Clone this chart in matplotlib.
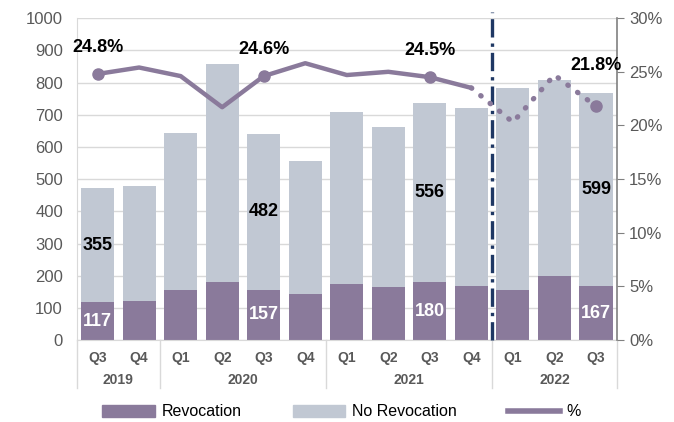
import matplotlib.pyplot as plt
import numpy as np
from matplotlib.lines import Line2D
from matplotlib.patches import Patch
from matplotlib.ticker import PercentFormatter

plt.rcParams['font.family'] = ['Liberation Sans', 'DejaVu Sans']

quarters = ['Q3', 'Q4', 'Q1', 'Q2', 'Q3', 'Q4', 'Q1', 'Q2', 'Q3', 'Q4', 'Q1', 'Q2', 'Q3']
years = ['2019', '2020', '2021', '2022']
year_sizes = [2, 4, 4, 3]
revocation = [117, 121, 156, 182, 157, 143, 174, 165, 180, 168, 157, 198, 167]
no_revocation = [355, 357, 487, 676, 482, 414, 534, 496, 556, 553, 626, 611, 599]
pct = [24.8, 25.4, 24.6, 21.7, 24.6, 25.8, 24.7, 25.0, 24.5, 23.5, 20.3, 24.7, 21.8]
bar_labels_rev = {0: 117, 4: 157, 8: 180, 12: 167}
bar_labels_norev = {0: 355, 4: 482, 8: 556, 12: 599}
pct_labels = {0: '24.8%', 4: '24.6%', 8: '24.5%', 12: '21.8%'}

c_rev = '#8a7a9b'
c_norev = '#c1c8d3'
c_line = '#8a7a9b'
grey = '#595959'

fig = plt.figure(figsize=(6.74, 4.22), dpi=100)
ax = fig.add_axes([0.114, 0.194, 0.801, 0.763])
x = np.arange(len(quarters))

ax.bar(x, revocation, width=0.8, color=c_rev, zorder=2)
ax.bar(x, no_revocation, width=0.8, bottom=revocation, color=c_norev, zorder=2)

for i, v in bar_labels_rev.items():
    ax.text(i, revocation[i] / 2, str(v), ha='center', va='center', color='white',
            fontsize=13, fontweight='bold', zorder=5)
for i, v in bar_labels_norev.items():
    ax.text(i, revocation[i] + no_revocation[i] / 2, str(v), ha='center', va='center',
            color='black', fontsize=13, fontweight='bold', zorder=5)

ax.set_xlim(-0.5, len(quarters) - 0.5)
ax.set_ylim(0, 1000)
ax.set_yticks(np.arange(0, 1001, 100))
ax.grid(axis='y', color='#d9d9d9', linewidth=1, zorder=0)
ax.set_axisbelow(True)
ax.tick_params(axis='y', length=0, labelsize=12, labelcolor=grey, pad=10)
ax.set_xticks(x)
ax.set_xticklabels(quarters, fontsize=10, fontweight='bold', color=grey)
ax.tick_params(axis='x', length=0, pad=8)
for s in ['top', 'right']:
    ax.spines[s].set_visible(False)
ax.spines['left'].set_color('#d9d9d9')
ax.spines['bottom'].set_color('#d9d9d9')

# year groups below quarter labels
trans = ax.get_xaxis_transform()
start = -0.5
ax.plot([start, start], [0, -0.15], color='#d9d9d9', lw=1, transform=trans, clip_on=False)
for yr, n in zip(years, year_sizes):
    end = start + n
    ax.text((start + end) / 2, -0.125, yr, transform=trans, ha='center', va='center',
            fontsize=10, fontweight='bold', color=grey)
    ax.plot([end, end], [0, -0.15], color='#d9d9d9', lw=1, transform=trans, clip_on=False)
    start = end

# forecast divider
ax.plot([9.5, 9.5], [0.0, 1.02], transform=trans, color='#1f3864', lw=2.4,
        linestyle=(0, (5.5, 1.8, 1, 1.8)), clip_on=False, zorder=6)

ax2 = ax.twinx()
ax2.set_ylim(0, 30)
ax2.set_yticks(np.arange(0, 31, 5))
ax2.yaxis.set_major_formatter(PercentFormatter(decimals=0))
ax2.tick_params(axis='y', length=5, color='#808080', labelsize=12, labelcolor=grey, pad=4)
for s in ['top', 'left', 'bottom']:
    ax2.spines[s].set_visible(False)
ax2.spines['right'].set_color('#808080')
ax2.spines['right'].set_linewidth(1.2)

ax2.plot(x[:10], pct[:10], color=c_line, lw=3.2, solid_capstyle='round', zorder=4)
ax2.plot(x[9:], pct[9:], color=c_line, lw=3.8, linestyle=(0, (0.1, 2.2)),
         dash_capstyle='round', zorder=4)
idx = list(pct_labels.keys())
ax2.plot(idx, [pct[i] for i in idx], 'o', color=c_line, markersize=8, zorder=5)

offsets = {0: 13, 4: 13, 8: 13, 12: 23}
for i, s in pct_labels.items():
    ax2.annotate(s, (i, pct[i]), xytext=(0, offsets[i]), textcoords='offset points',
                 ha='center', va='bottom', fontsize=13, fontweight='bold', color='black',
                 zorder=7)

handles = [Patch(color=c_rev), Patch(color=c_norev), Line2D([], [], color=c_line, lw=4)]
fig.legend(handles, ['Revocation', 'No Revocation', '%'], loc='center',
           bbox_to_anchor=(0.507, 0.024), ncol=3, frameon=False, fontsize=11.5,
           handlelength=3.3, handleheight=0.8, columnspacing=3.2, handletextpad=0.4)

fig.savefig('out.png', dpi=100)
